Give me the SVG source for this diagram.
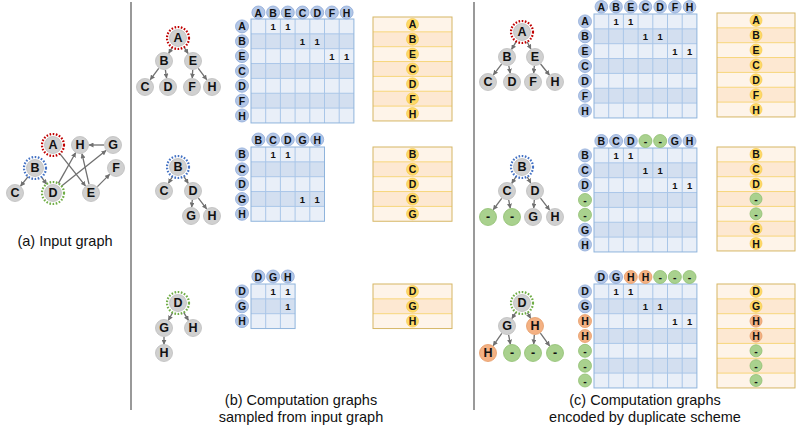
<svg xmlns="http://www.w3.org/2000/svg" width="799" height="429" viewBox="0 0 799 429">
<style>
text{font-family:"Liberation Sans",Arial,sans-serif;}
.n{fill:#d0d0d0;stroke:#bdbdbd;stroke-width:0.8}
.nt{font-size:12.5px;font-weight:bold;fill:#111;text-anchor:middle;dominant-baseline:central}
.hb{fill:#b4c7e7;stroke:#8eaad8;stroke-width:0.8}
.hg{fill:#a9d18e;stroke:#8fbf70;stroke-width:0.8}
.ho{fill:#f4b183;stroke:#e59a66;stroke-width:0.8}
.hy{fill:#ffd966;stroke:#f2c744;stroke-width:0.6}
.lt{font-size:10.5px;font-weight:bold;fill:#111;text-anchor:middle;dominant-baseline:central}
.one{font-size:9.5px;font-weight:bold;fill:#111;text-anchor:middle;dominant-baseline:central}
.rl{fill:#e9eff8}.rd{fill:#d3dff0}
.gl{fill:none;stroke:#a9c6e8;stroke-width:1}
.gb{fill:none;stroke:#8fb4dc;stroke-width:1}
.ll{fill:#fef4e9}.ld{fill:#fde8d2}
.lg{fill:none;stroke:#f7d67a;stroke-width:1}
.lb{fill:none;stroke:#d6b665;stroke-width:1}
.ringR{fill:none;stroke:#c00000;stroke-width:2.2;stroke-dasharray:1.6 1.6}
.ringB{fill:none;stroke:#4472c4;stroke-width:2.2;stroke-dasharray:1.6 1.6}
.ringG{fill:none;stroke:#70ad47;stroke-width:2.2;stroke-dasharray:1.6 1.6}
.e{stroke:#707070;stroke-width:1.3;fill:none;marker-end:url(#ah)}
.cap{font-size:14.5px;fill:#111;text-anchor:middle}
.div{stroke:#555;stroke-width:1.2}
</style>
<defs>
<marker id="ah" viewBox="0 0 10 10" refX="9" refY="5" markerWidth="5" markerHeight="5" markerUnits="userSpaceOnUse" orient="auto"><path d="M0,0L10,5L0,10z" fill="#707070"/></marker>
</defs>
<rect width="799" height="429" fill="#fff"/>

<g id="dividers">
<line class="div" x1="131" y1="2" x2="131" y2="410"/>
<line class="div" x1="474" y1="2" x2="474" y2="410"/>
</g>

<g id="connectors">
<line class="e" x1="59.8" y1="153.6" x2="85.4" y2="185.9"/>
<line class="e" x1="28.1" y1="176.6" x2="20.6" y2="186"/>
<line class="e" x1="41.4" y1="176.9" x2="46.6" y2="184.1"/>
<line class="e" x1="58.4" y1="183.4" x2="75.6" y2="152.8"/>
<line class="e" x1="61.6" y1="186.1" x2="106" y2="150.6"/>
<line class="e" x1="89" y1="184.2" x2="82" y2="153.8"/>
<line class="e" x1="97.4" y1="186.6" x2="109.6" y2="174.4"/>
<line class="e" x1="104" y1="145" x2="89" y2="145"/>
<line class="e" x1="172.3" y1="47.4" x2="168.7" y2="53.3"/>
<line class="e" x1="184" y1="47.2" x2="188.1" y2="53.5"/>
<line class="e" x1="158.7" y1="68.3" x2="150.3" y2="79.7"/>
<line class="e" x1="165.4" y1="69.9" x2="166.6" y2="78.1"/>
<line class="e" x1="192.7" y1="70" x2="192.3" y2="78"/>
<line class="e" x1="198.3" y1="68.3" x2="206.7" y2="79.7"/>
<line class="e" x1="172.5" y1="176.5" x2="168.5" y2="183.2"/>
<line class="e" x1="183.8" y1="176.3" x2="188.2" y2="183.4"/>
<line class="e" x1="192.3" y1="200" x2="191.7" y2="207"/>
<line class="e" x1="198.4" y1="198.2" x2="206.6" y2="208.8"/>
<line class="e" x1="172.6" y1="312.6" x2="168.4" y2="320.2"/>
<line class="e" x1="183.7" y1="312.4" x2="188.4" y2="320.3"/>
<line class="e" x1="164" y1="337" x2="164" y2="344.3"/>
<line class="e" x1="516.3" y1="41.4" x2="511.6" y2="49.3"/>
<line class="e" x1="527.1" y1="41.8" x2="530.9" y2="49"/>
<line class="e" x1="501.6" y1="64.2" x2="493.4" y2="74.8"/>
<line class="e" x1="508.8" y1="65.8" x2="510.2" y2="73.2"/>
<line class="e" x1="534.3" y1="66" x2="533.7" y2="73"/>
<line class="e" x1="540.6" y1="64" x2="549.4" y2="75"/>
<line class="e" x1="516.2" y1="176.3" x2="511.8" y2="183.4"/>
<line class="e" x1="527.2" y1="176.7" x2="530.7" y2="183.1"/>
<line class="e" x1="501.7" y1="198.3" x2="493.3" y2="209.7"/>
<line class="e" x1="508.7" y1="199.8" x2="510.3" y2="208.2"/>
<line class="e" x1="534.3" y1="200" x2="533.7" y2="208"/>
<line class="e" x1="540.5" y1="198.1" x2="549.5" y2="209.9"/>
<line class="e" x1="516" y1="312.2" x2="511.9" y2="318.5"/>
<line class="e" x1="527.4" y1="312.6" x2="530.6" y2="318.2"/>
<line class="e" x1="501.8" y1="333.4" x2="493.2" y2="345.6"/>
<line class="e" x1="508.6" y1="334.8" x2="510.4" y2="344.2"/>
<line class="e" x1="534.3" y1="335" x2="533.7" y2="344"/>
<line class="e" x1="540.4" y1="333.2" x2="549.6" y2="345.8"/>
</g>

<g id="in-A"><circle class="n" cx="53" cy="145" r="8.5"/><circle class="ringR" cx="53" cy="145" r="11"/><text class="nt" x="53" y="145">A</text></g>
<g id="in-H"><circle class="n" cx="80" cy="145" r="8.5"/><text class="nt" x="80" y="145">H</text></g>
<g id="in-G"><circle class="n" cx="113" cy="145" r="8.5"/><text class="nt" x="113" y="145">G</text></g>
<g id="in-B"><circle class="n" cx="35" cy="168" r="8.5"/><circle class="ringB" cx="35" cy="168" r="11"/><text class="nt" x="35" y="168">B</text></g>
<g id="in-F"><circle class="n" cx="116" cy="168" r="8.5"/><text class="nt" x="116" y="168">F</text></g>
<g id="in-C"><circle class="n" cx="15" cy="193" r="8.5"/><text class="nt" x="15" y="193">C</text></g>
<g id="in-D"><circle class="n" cx="53" cy="193" r="8.5"/><circle class="ringG" cx="53" cy="193" r="11"/><text class="nt" x="53" y="193">D</text></g>
<g id="in-E"><circle class="n" cx="91" cy="193" r="8.5"/><text class="nt" x="91" y="193">E</text></g>

<g id="b1-A"><circle class="n" cx="178" cy="38" r="8.5"/><circle class="ringR" cx="178" cy="38" r="11"/><text class="nt" x="178" y="38">A</text></g>
<g id="b1-B"><circle class="n" cx="164" cy="61" r="8.5"/><text class="nt" x="164" y="61">B</text></g>
<g id="b1-E"><circle class="n" cx="193" cy="61" r="8.5"/><text class="nt" x="193" y="61">E</text></g>
<g id="b1-C"><circle class="n" cx="145" cy="87" r="8.5"/><text class="nt" x="145" y="87">C</text></g>
<g id="b1-D"><circle class="n" cx="168" cy="87" r="8.5"/><text class="nt" x="168" y="87">D</text></g>
<g id="b1-F"><circle class="n" cx="192" cy="87" r="8.5"/><text class="nt" x="192" y="87">F</text></g>
<g id="b1-H"><circle class="n" cx="212" cy="87" r="8.5"/><text class="nt" x="212" y="87">H</text></g>

<g id="b1-matrix">
<rect class="rl" x="251" y="19" width="102.9" height="14.85"/>
<rect class="rd" x="251" y="33.85" width="102.9" height="14.85"/>
<rect class="rl" x="251" y="48.7" width="102.9" height="14.85"/>
<rect class="rd" x="251" y="63.55" width="102.9" height="14.85"/>
<rect class="rl" x="251" y="78.4" width="102.9" height="14.85"/>
<rect class="rd" x="251" y="93.25" width="102.9" height="14.85"/>
<rect class="rl" x="251" y="108.1" width="102.9" height="14.85"/>
<path class="gl" d="M265.7 19V122.95M280.4 19V122.95M295.1 19V122.95M309.8 19V122.95M324.5 19V122.95M339.2 19V122.95M251 33.85H353.9M251 48.7H353.9M251 63.55H353.9M251 78.4H353.9M251 93.25H353.9M251 108.1H353.9"/>
<rect class="gb" x="251" y="19" width="102.9" height="103.95"/>
<circle class="hb" cx="258.4" cy="12.5" r="6.5"/><text class="lt" x="258.4" y="12.5">A</text>
<circle class="hb" cx="273.1" cy="12.5" r="6.5"/><text class="lt" x="273.1" y="12.5">B</text>
<circle class="hb" cx="287.8" cy="12.5" r="6.5"/><text class="lt" x="287.8" y="12.5">E</text>
<circle class="hb" cx="302.5" cy="12.5" r="6.5"/><text class="lt" x="302.5" y="12.5">C</text>
<circle class="hb" cx="317.2" cy="12.5" r="6.5"/><text class="lt" x="317.2" y="12.5">D</text>
<circle class="hb" cx="331.9" cy="12.5" r="6.5"/><text class="lt" x="331.9" y="12.5">F</text>
<circle class="hb" cx="346.6" cy="12.5" r="6.5"/><text class="lt" x="346.6" y="12.5">H</text>
<circle class="hb" cx="242" cy="26.4" r="6.5"/><text class="lt" x="242" y="26.4">A</text>
<circle class="hb" cx="242" cy="41.3" r="6.5"/><text class="lt" x="242" y="41.3">B</text>
<circle class="hb" cx="242" cy="56.1" r="6.5"/><text class="lt" x="242" y="56.1">E</text>
<circle class="hb" cx="242" cy="71" r="6.5"/><text class="lt" x="242" y="71">C</text>
<circle class="hb" cx="242" cy="85.8" r="6.5"/><text class="lt" x="242" y="85.8">D</text>
<circle class="hb" cx="242" cy="100.7" r="6.5"/><text class="lt" x="242" y="100.7">F</text>
<circle class="hb" cx="242" cy="115.5" r="6.5"/><text class="lt" x="242" y="115.5">H</text>
<text class="one" x="273.1" y="26.4">1</text><text class="one" x="287.8" y="26.4">1</text>
<text class="one" x="302.5" y="41.3">1</text><text class="one" x="317.2" y="41.3">1</text>
<text class="one" x="331.9" y="56.1">1</text><text class="one" x="346.6" y="56.1">1</text>
</g>

<g id="b1-list">
<rect class="ll" x="373" y="17" width="79" height="14.85"/>
<rect class="ld" x="373" y="31.85" width="79" height="14.85"/>
<rect class="ll" x="373" y="46.7" width="79" height="14.85"/>
<rect class="ld" x="373" y="61.55" width="79" height="14.85"/>
<rect class="ll" x="373" y="76.4" width="79" height="14.85"/>
<rect class="ld" x="373" y="91.25" width="79" height="14.85"/>
<rect class="ll" x="373" y="106.1" width="79" height="14.85"/>
<path class="lg" d="M373 31.85H452M373 46.7H452M373 61.55H452M373 76.4H452M373 91.25H452M373 106.1H452"/>
<rect class="lb" x="373" y="17" width="79" height="103.95"/>
<circle class="hy" cx="412.5" cy="24.4" r="6"/><text class="lt" x="412.5" y="24.4">A</text>
<circle class="hy" cx="412.5" cy="39.3" r="6"/><text class="lt" x="412.5" y="39.3">B</text>
<circle class="hy" cx="412.5" cy="54.1" r="6"/><text class="lt" x="412.5" y="54.1">E</text>
<circle class="hy" cx="412.5" cy="69" r="6"/><text class="lt" x="412.5" y="69">C</text>
<circle class="hy" cx="412.5" cy="83.8" r="6"/><text class="lt" x="412.5" y="83.8">D</text>
<circle class="hy" cx="412.5" cy="98.7" r="6"/><text class="lt" x="412.5" y="98.7">F</text>
<circle class="hy" cx="412.5" cy="113.5" r="6"/><text class="lt" x="412.5" y="113.5">H</text>
</g>

<g id="b2-B"><circle class="n" cx="178" cy="167" r="8.5"/><circle class="ringB" cx="178" cy="167" r="11"/><text class="nt" x="178" y="167">B</text></g>
<g id="b2-C"><circle class="n" cx="164" cy="191" r="8.5"/><text class="nt" x="164" y="191">C</text></g>
<g id="b2-D"><circle class="n" cx="193" cy="191" r="8.5"/><text class="nt" x="193" y="191">D</text></g>
<g id="b2-G"><circle class="n" cx="191" cy="216" r="8.5"/><text class="nt" x="191" y="216">G</text></g>
<g id="b2-H"><circle class="n" cx="212" cy="216" r="8.5"/><text class="nt" x="212" y="216">H</text></g>

<g id="b2-matrix">
<rect class="rl" x="251" y="147" width="73.5" height="14.85"/>
<rect class="rd" x="251" y="161.85" width="73.5" height="14.85"/>
<rect class="rl" x="251" y="176.7" width="73.5" height="14.85"/>
<rect class="rd" x="251" y="191.55" width="73.5" height="14.85"/>
<rect class="rl" x="251" y="206.4" width="73.5" height="14.85"/>
<path class="gl" d="M265.7 147V221.25M280.4 147V221.25M295.1 147V221.25M309.8 147V221.25M251 161.85H324.5M251 176.7H324.5M251 191.55H324.5M251 206.4H324.5"/>
<rect class="gb" x="251" y="147" width="73.5" height="74.25"/>
<circle class="hb" cx="258.4" cy="139.5" r="6.5"/><text class="lt" x="258.4" y="139.5">B</text>
<circle class="hb" cx="273.1" cy="139.5" r="6.5"/><text class="lt" x="273.1" y="139.5">C</text>
<circle class="hb" cx="287.8" cy="139.5" r="6.5"/><text class="lt" x="287.8" y="139.5">D</text>
<circle class="hb" cx="302.5" cy="139.5" r="6.5"/><text class="lt" x="302.5" y="139.5">G</text>
<circle class="hb" cx="317.2" cy="139.5" r="6.5"/><text class="lt" x="317.2" y="139.5">H</text>
<circle class="hb" cx="242" cy="154.4" r="6.5"/><text class="lt" x="242" y="154.4">B</text>
<circle class="hb" cx="242" cy="169.3" r="6.5"/><text class="lt" x="242" y="169.3">C</text>
<circle class="hb" cx="242" cy="184.1" r="6.5"/><text class="lt" x="242" y="184.1">D</text>
<circle class="hb" cx="242" cy="199" r="6.5"/><text class="lt" x="242" y="199">G</text>
<circle class="hb" cx="242" cy="213.8" r="6.5"/><text class="lt" x="242" y="213.8">H</text>
<text class="one" x="273.1" y="154.4">1</text><text class="one" x="287.8" y="154.4">1</text>
<text class="one" x="302.5" y="199">1</text><text class="one" x="317.2" y="199">1</text>
</g>

<g id="b2-list">
<rect class="ll" x="373" y="147" width="79" height="14.85"/>
<rect class="ld" x="373" y="161.85" width="79" height="14.85"/>
<rect class="ll" x="373" y="176.7" width="79" height="14.85"/>
<rect class="ld" x="373" y="191.55" width="79" height="14.85"/>
<rect class="ll" x="373" y="206.4" width="79" height="14.85"/>
<path class="lg" d="M373 161.85H452M373 176.7H452M373 191.55H452M373 206.4H452"/>
<rect class="lb" x="373" y="147" width="79" height="74.25"/>
<circle class="hy" cx="412.5" cy="154.4" r="6"/><text class="lt" x="412.5" y="154.4">B</text>
<circle class="hy" cx="412.5" cy="169.3" r="6"/><text class="lt" x="412.5" y="169.3">C</text>
<circle class="hy" cx="412.5" cy="184.1" r="6"/><text class="lt" x="412.5" y="184.1">D</text>
<circle class="hy" cx="412.5" cy="199" r="6"/><text class="lt" x="412.5" y="199">G</text>
<circle class="hy" cx="412.5" cy="213.8" r="6"/><text class="lt" x="412.5" y="213.8">G</text>
</g>

<g id="b3-D"><circle class="n" cx="178" cy="303" r="8.5"/><circle class="ringG" cx="178" cy="303" r="11"/><text class="nt" x="178" y="303">D</text></g>
<g id="b3-G"><circle class="n" cx="164" cy="328" r="8.5"/><text class="nt" x="164" y="328">G</text></g>
<g id="b3-H"><circle class="n" cx="193" cy="328" r="8.5"/><text class="nt" x="193" y="328">H</text></g>
<g id="b3-H2"><circle class="n" cx="164" cy="353" r="8.5"/><text class="nt" x="164" y="353">H</text></g>

<g id="b3-matrix">
<rect class="rl" x="251" y="284" width="44.1" height="14.85"/>
<rect class="rd" x="251" y="298.85" width="44.1" height="14.85"/>
<rect class="rl" x="251" y="313.7" width="44.1" height="14.85"/>
<path class="gl" d="M265.7 284V328.55M280.4 284V328.55M251 298.85H295.1M251 313.7H295.1"/>
<rect class="gb" x="251" y="284" width="44.1" height="44.55"/>
<circle class="hb" cx="258.4" cy="276.5" r="6.5"/><text class="lt" x="258.4" y="276.5">D</text>
<circle class="hb" cx="273.1" cy="276.5" r="6.5"/><text class="lt" x="273.1" y="276.5">G</text>
<circle class="hb" cx="287.8" cy="276.5" r="6.5"/><text class="lt" x="287.8" y="276.5">H</text>
<circle class="hb" cx="242" cy="291.4" r="6.5"/><text class="lt" x="242" y="291.4">D</text>
<circle class="hb" cx="242" cy="306.3" r="6.5"/><text class="lt" x="242" y="306.3">G</text>
<circle class="hb" cx="242" cy="321.1" r="6.5"/><text class="lt" x="242" y="321.1">H</text>
<text class="one" x="273.1" y="291.4">1</text><text class="one" x="287.8" y="291.4">1</text>
<text class="one" x="287.8" y="306.3">1</text>
</g>

<g id="b3-list">
<rect class="ll" x="373" y="284" width="79" height="14.85"/>
<rect class="ld" x="373" y="298.85" width="79" height="14.85"/>
<rect class="ll" x="373" y="313.7" width="79" height="14.85"/>
<path class="lg" d="M373 298.85H452M373 313.7H452"/>
<rect class="lb" x="373" y="284" width="79" height="44.55"/>
<circle class="hy" cx="412.5" cy="291.4" r="6"/><text class="lt" x="412.5" y="291.4">D</text>
<circle class="hy" cx="412.5" cy="306.3" r="6"/><text class="lt" x="412.5" y="306.3">G</text>
<circle class="hy" cx="412.5" cy="321.1" r="6"/><text class="lt" x="412.5" y="321.1">H</text>
</g>

<g id="c1-A"><circle class="n" cx="522" cy="32" r="8.5"/><circle class="ringR" cx="522" cy="32" r="11"/><text class="nt" x="522" y="32">A</text></g>
<g id="c1-B"><circle class="n" cx="507" cy="57" r="8.5"/><text class="nt" x="507" y="57">B</text></g>
<g id="c1-E"><circle class="n" cx="535" cy="57" r="8.5"/><text class="nt" x="535" y="57">E</text></g>
<g id="c1-C"><circle class="n" cx="488" cy="82" r="8.5"/><text class="nt" x="488" y="82">C</text></g>
<g id="c1-D"><circle class="n" cx="512" cy="82" r="8.5"/><text class="nt" x="512" y="82">D</text></g>
<g id="c1-F"><circle class="n" cx="533" cy="82" r="8.5"/><text class="nt" x="533" y="82">F</text></g>
<g id="c1-H"><circle class="n" cx="555" cy="82" r="8.5"/><text class="nt" x="555" y="82">H</text></g>

<g id="c1-matrix">
<rect class="rl" x="594" y="14" width="102.9" height="14.85"/>
<rect class="rd" x="594" y="28.85" width="102.9" height="14.85"/>
<rect class="rl" x="594" y="43.7" width="102.9" height="14.85"/>
<rect class="rd" x="594" y="58.55" width="102.9" height="14.85"/>
<rect class="rl" x="594" y="73.4" width="102.9" height="14.85"/>
<rect class="rd" x="594" y="88.25" width="102.9" height="14.85"/>
<rect class="rl" x="594" y="103.1" width="102.9" height="14.85"/>
<path class="gl" d="M608.7 14V117.95M623.4 14V117.95M638.1 14V117.95M652.8 14V117.95M667.5 14V117.95M682.2 14V117.95M594 28.85H696.9M594 43.7H696.9M594 58.55H696.9M594 73.4H696.9M594 88.25H696.9M594 103.1H696.9"/>
<rect class="gb" x="594" y="14" width="102.9" height="103.95"/>
<circle class="hb" cx="601.35" cy="6.8" r="6.3"/><text class="lt" x="601.35" y="6.8">A</text>
<circle class="hb" cx="616.05" cy="6.8" r="6.3"/><text class="lt" x="616.05" y="6.8">B</text>
<circle class="hb" cx="630.75" cy="6.8" r="6.3"/><text class="lt" x="630.75" y="6.8">E</text>
<circle class="hb" cx="645.45" cy="6.8" r="6.3"/><text class="lt" x="645.45" y="6.8">C</text>
<circle class="hb" cx="660.15" cy="6.8" r="6.3"/><text class="lt" x="660.15" y="6.8">D</text>
<circle class="hb" cx="674.85" cy="6.8" r="6.3"/><text class="lt" x="674.85" y="6.8">F</text>
<circle class="hb" cx="689.55" cy="6.8" r="6.3"/><text class="lt" x="689.55" y="6.8">H</text>
<circle class="hb" cx="585" cy="21.4" r="6.5"/><text class="lt" x="585" y="21.4">A</text>
<circle class="hb" cx="585" cy="36.3" r="6.5"/><text class="lt" x="585" y="36.3">B</text>
<circle class="hb" cx="585" cy="51.1" r="6.5"/><text class="lt" x="585" y="51.1">E</text>
<circle class="hb" cx="585" cy="66" r="6.5"/><text class="lt" x="585" y="66">C</text>
<circle class="hb" cx="585" cy="80.8" r="6.5"/><text class="lt" x="585" y="80.8">D</text>
<circle class="hb" cx="585" cy="95.7" r="6.5"/><text class="lt" x="585" y="95.7">F</text>
<circle class="hb" cx="585" cy="110.5" r="6.5"/><text class="lt" x="585" y="110.5">H</text>
<text class="one" x="616.05" y="21.4">1</text><text class="one" x="630.75" y="21.4">1</text>
<text class="one" x="645.45" y="36.3">1</text><text class="one" x="660.15" y="36.3">1</text>
<text class="one" x="674.85" y="51.1">1</text><text class="one" x="689.55" y="51.1">1</text>
</g>

<g id="c1-list">
<rect class="ll" x="717" y="13" width="78" height="14.85"/>
<rect class="ld" x="717" y="27.85" width="78" height="14.85"/>
<rect class="ll" x="717" y="42.7" width="78" height="14.85"/>
<rect class="ld" x="717" y="57.55" width="78" height="14.85"/>
<rect class="ll" x="717" y="72.4" width="78" height="14.85"/>
<rect class="ld" x="717" y="87.25" width="78" height="14.85"/>
<rect class="ll" x="717" y="102.1" width="78" height="14.85"/>
<path class="lg" d="M717 27.85H795M717 42.7H795M717 57.55H795M717 72.4H795M717 87.25H795M717 102.1H795"/>
<rect class="lb" x="717" y="13" width="78" height="103.95"/>
<circle class="hy" cx="756" cy="20.4" r="6"/><text class="lt" x="756" y="20.4">A</text>
<circle class="hy" cx="756" cy="35.3" r="6"/><text class="lt" x="756" y="35.3">B</text>
<circle class="hy" cx="756" cy="50.1" r="6"/><text class="lt" x="756" y="50.1">E</text>
<circle class="hy" cx="756" cy="65" r="6"/><text class="lt" x="756" y="65">C</text>
<circle class="hy" cx="756" cy="79.8" r="6"/><text class="lt" x="756" y="79.8">D</text>
<circle class="hy" cx="756" cy="94.7" r="6"/><text class="lt" x="756" y="94.7">F</text>
<circle class="hy" cx="756" cy="109.5" r="6"/><text class="lt" x="756" y="109.5">H</text>
</g>

<g id="c2-B"><circle class="n" cx="522" cy="167" r="8.5"/><circle class="ringB" cx="522" cy="167" r="11"/><text class="nt" x="522" y="167">B</text></g>
<g id="c2-C"><circle class="n" cx="507" cy="191" r="8.5"/><text class="nt" x="507" y="191">C</text></g>
<g id="c2-D"><circle class="n" cx="535" cy="191" r="8.5"/><text class="nt" x="535" y="191">D</text></g>
<g id="c2-x1"><circle class="hg" cx="488" cy="217" r="8.5"/><text class="nt" x="488" y="217">-</text></g>
<g id="c2-x2"><circle class="hg" cx="512" cy="217" r="8.5"/><text class="nt" x="512" y="217">-</text></g>
<g id="c2-G"><circle class="n" cx="533" cy="217" r="8.5"/><text class="nt" x="533" y="217">G</text></g>
<g id="c2-H"><circle class="n" cx="555" cy="217" r="8.5"/><text class="nt" x="555" y="217">H</text></g>

<g id="c2-matrix">
<rect class="rl" x="594" y="148" width="102.9" height="14.85"/>
<rect class="rd" x="594" y="162.85" width="102.9" height="14.85"/>
<rect class="rl" x="594" y="177.7" width="102.9" height="14.85"/>
<rect class="rd" x="594" y="192.55" width="102.9" height="14.85"/>
<rect class="rl" x="594" y="207.4" width="102.9" height="14.85"/>
<rect class="rd" x="594" y="222.25" width="102.9" height="14.85"/>
<rect class="rl" x="594" y="237.1" width="102.9" height="14.85"/>
<path class="gl" d="M608.7 148V251.95M623.4 148V251.95M638.1 148V251.95M652.8 148V251.95M667.5 148V251.95M682.2 148V251.95M594 162.85H696.9M594 177.7H696.9M594 192.55H696.9M594 207.4H696.9M594 222.25H696.9M594 237.1H696.9"/>
<rect class="gb" x="594" y="148" width="102.9" height="103.95"/>
<circle class="hb" cx="601.35" cy="141" r="6.5"/><text class="lt" x="601.35" y="141">B</text>
<circle class="hb" cx="616.05" cy="141" r="6.5"/><text class="lt" x="616.05" y="141">C</text>
<circle class="hb" cx="630.75" cy="141" r="6.5"/><text class="lt" x="630.75" y="141">D</text>
<circle class="hg" cx="645.45" cy="141" r="6.5"/><text class="lt" x="645.45" y="141">-</text>
<circle class="hg" cx="660.15" cy="141" r="6.5"/><text class="lt" x="660.15" y="141">-</text>
<circle class="hb" cx="674.85" cy="141" r="6.5"/><text class="lt" x="674.85" y="141">G</text>
<circle class="hb" cx="689.55" cy="141" r="6.5"/><text class="lt" x="689.55" y="141">H</text>
<circle class="hb" cx="585" cy="155.4" r="6.5"/><text class="lt" x="585" y="155.4">B</text>
<circle class="hb" cx="585" cy="170.3" r="6.5"/><text class="lt" x="585" y="170.3">C</text>
<circle class="hb" cx="585" cy="185.1" r="6.5"/><text class="lt" x="585" y="185.1">D</text>
<circle class="hg" cx="585" cy="200" r="6.5"/><text class="lt" x="585" y="200">-</text>
<circle class="hg" cx="585" cy="214.8" r="6.5"/><text class="lt" x="585" y="214.8">-</text>
<circle class="hb" cx="585" cy="229.7" r="6.5"/><text class="lt" x="585" y="229.7">G</text>
<circle class="hb" cx="585" cy="244.5" r="6.5"/><text class="lt" x="585" y="244.5">H</text>
<text class="one" x="616.05" y="155.4">1</text><text class="one" x="630.75" y="155.4">1</text>
<text class="one" x="645.45" y="170.3">1</text><text class="one" x="660.15" y="170.3">1</text>
<text class="one" x="674.85" y="185.1">1</text><text class="one" x="689.55" y="185.1">1</text>
</g>

<g id="c2-list">
<rect class="ll" x="717" y="147" width="78" height="14.85"/>
<rect class="ld" x="717" y="161.85" width="78" height="14.85"/>
<rect class="ll" x="717" y="176.7" width="78" height="14.85"/>
<rect class="ld" x="717" y="191.55" width="78" height="14.85"/>
<rect class="ll" x="717" y="206.4" width="78" height="14.85"/>
<rect class="ld" x="717" y="221.25" width="78" height="14.85"/>
<rect class="ll" x="717" y="236.1" width="78" height="14.85"/>
<path class="lg" d="M717 161.85H795M717 176.7H795M717 191.55H795M717 206.4H795M717 221.25H795M717 236.1H795"/>
<rect class="lb" x="717" y="147" width="78" height="103.95"/>
<circle class="hy" cx="756" cy="154.4" r="6"/><text class="lt" x="756" y="154.4">B</text>
<circle class="hy" cx="756" cy="169.3" r="6"/><text class="lt" x="756" y="169.3">C</text>
<circle class="hy" cx="756" cy="184.1" r="6"/><text class="lt" x="756" y="184.1">D</text>
<circle class="hg" cx="756" cy="199" r="6"/><text class="lt" x="756" y="199">-</text>
<circle class="hg" cx="756" cy="213.8" r="6"/><text class="lt" x="756" y="213.8">-</text>
<circle class="hy" cx="756" cy="228.7" r="6"/><text class="lt" x="756" y="228.7">G</text>
<circle class="hy" cx="756" cy="243.5" r="6"/><text class="lt" x="756" y="243.5">H</text>
</g>

<g id="c3-D"><circle class="n" cx="522" cy="303" r="8.5"/><circle class="ringG" cx="522" cy="303" r="11"/><text class="nt" x="522" y="303">D</text></g>
<g id="c3-G"><circle class="n" cx="507" cy="326" r="8.5"/><text class="nt" x="507" y="326">G</text></g>
<g id="c3-H"><circle class="ho" cx="535" cy="326" r="8.5"/><text class="nt" x="535" y="326">H</text></g>
<g id="c3-H2"><circle class="ho" cx="488" cy="353" r="8.5"/><text class="nt" x="488" y="353">H</text></g>
<g id="c3-x1"><circle class="hg" cx="512" cy="353" r="8.5"/><text class="nt" x="512" y="353">-</text></g>
<g id="c3-x2"><circle class="hg" cx="533" cy="353" r="8.5"/><text class="nt" x="533" y="353">-</text></g>
<g id="c3-x3"><circle class="hg" cx="555" cy="353" r="8.5"/><text class="nt" x="555" y="353">-</text></g>

<g id="c3-matrix">
<rect class="rl" x="594" y="284" width="102.9" height="14.85"/>
<rect class="rd" x="594" y="298.85" width="102.9" height="14.85"/>
<rect class="rl" x="594" y="313.7" width="102.9" height="14.85"/>
<rect class="rd" x="594" y="328.55" width="102.9" height="14.85"/>
<rect class="rl" x="594" y="343.4" width="102.9" height="14.85"/>
<rect class="rd" x="594" y="358.25" width="102.9" height="14.85"/>
<rect class="rl" x="594" y="373.1" width="102.9" height="14.85"/>
<path class="gl" d="M608.7 284V387.95M623.4 284V387.95M638.1 284V387.95M652.8 284V387.95M667.5 284V387.95M682.2 284V387.95M594 298.85H696.9M594 313.7H696.9M594 328.55H696.9M594 343.4H696.9M594 358.25H696.9M594 373.1H696.9"/>
<rect class="gb" x="594" y="284" width="102.9" height="103.95"/>
<circle class="hb" cx="601.35" cy="277" r="6.5"/><text class="lt" x="601.35" y="277">D</text>
<circle class="hb" cx="616.05" cy="277" r="6.5"/><text class="lt" x="616.05" y="277">G</text>
<circle class="ho" cx="630.75" cy="277" r="6.5"/><text class="lt" x="630.75" y="277">H</text>
<circle class="ho" cx="645.45" cy="277" r="6.5"/><text class="lt" x="645.45" y="277">H</text>
<circle class="hg" cx="660.15" cy="277" r="6.5"/><text class="lt" x="660.15" y="277">-</text>
<circle class="hg" cx="674.85" cy="277" r="6.5"/><text class="lt" x="674.85" y="277">-</text>
<circle class="hg" cx="689.55" cy="277" r="6.5"/><text class="lt" x="689.55" y="277">-</text>
<circle class="hb" cx="585" cy="291.4" r="6.5"/><text class="lt" x="585" y="291.4">D</text>
<circle class="hb" cx="585" cy="306.3" r="6.5"/><text class="lt" x="585" y="306.3">G</text>
<circle class="ho" cx="585" cy="321.1" r="6.5"/><text class="lt" x="585" y="321.1">H</text>
<circle class="ho" cx="585" cy="336" r="6.5"/><text class="lt" x="585" y="336">H</text>
<circle class="hg" cx="585" cy="350.8" r="6.5"/><text class="lt" x="585" y="350.8">-</text>
<circle class="hg" cx="585" cy="365.7" r="6.5"/><text class="lt" x="585" y="365.7">-</text>
<circle class="hg" cx="585" cy="380.5" r="6.5"/><text class="lt" x="585" y="380.5">-</text>
<text class="one" x="616.05" y="291.4">1</text><text class="one" x="630.75" y="291.4">1</text>
<text class="one" x="645.45" y="306.3">1</text><text class="one" x="660.15" y="306.3">1</text>
<text class="one" x="674.85" y="321.1">1</text><text class="one" x="689.55" y="321.1">1</text>
</g>

<g id="c3-list">
<rect class="ll" x="717" y="284" width="78" height="14.85"/>
<rect class="ld" x="717" y="298.85" width="78" height="14.85"/>
<rect class="ll" x="717" y="313.7" width="78" height="14.85"/>
<rect class="ld" x="717" y="328.55" width="78" height="14.85"/>
<rect class="ll" x="717" y="343.4" width="78" height="14.85"/>
<rect class="ld" x="717" y="358.25" width="78" height="14.85"/>
<rect class="ll" x="717" y="373.1" width="78" height="14.85"/>
<path class="lg" d="M717 298.85H795M717 313.7H795M717 328.55H795M717 343.4H795M717 358.25H795M717 373.1H795"/>
<rect class="lb" x="717" y="284" width="78" height="103.95"/>
<circle class="hy" cx="756" cy="291.4" r="6"/><text class="lt" x="756" y="291.4">D</text>
<circle class="hy" cx="756" cy="306.3" r="6"/><text class="lt" x="756" y="306.3">G</text>
<circle class="ho" cx="756" cy="321.1" r="6"/><text class="lt" x="756" y="321.1">H</text>
<circle class="ho" cx="756" cy="336" r="6"/><text class="lt" x="756" y="336">H</text>
<circle class="hg" cx="756" cy="350.8" r="6"/><text class="lt" x="756" y="350.8">-</text>
<circle class="hg" cx="756" cy="365.7" r="6"/><text class="lt" x="756" y="365.7">-</text>
<circle class="hg" cx="756" cy="380.5" r="6"/><text class="lt" x="756" y="380.5">-</text>
</g>

<g id="captions">
<text class="cap" x="65" y="246">(a) Input graph</text>
<text class="cap" x="301" y="405">(b) Computation graphs</text>
<text class="cap" x="301" y="422">sampled from input graph</text>
<text class="cap" x="645" y="405">(c) Computation graphs</text>
<text class="cap" x="645" y="422">encoded by duplicate scheme</text>
</g>
</svg>
